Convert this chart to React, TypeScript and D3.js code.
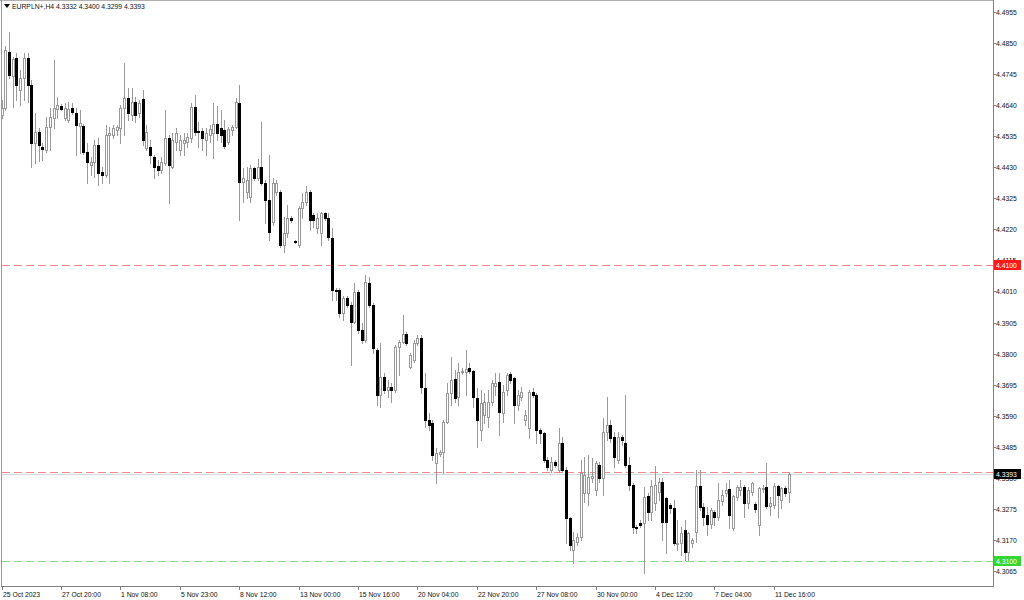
import React from "react";
import * as d3 from "d3";

const symbolTitle = "EURPLN+,H4  4.3332 4.3400 4.3299 4.3393";

const opens = [
  4.4607, 4.4630, 4.4820, 4.4739, 4.4800, 4.4691, 4.4732, 4.4800, 4.4708, 4.4512,
  4.4549, 4.4498, 4.4488, 4.4566, 4.4597, 4.4627, 4.4637, 4.4597, 4.4590, 4.4630,
  4.4614, 4.4570, 4.4570, 4.4481, 4.4438, 4.4448, 4.4505, 4.4414, 4.4404, 4.4539,
  4.4539, 4.4556, 4.4563, 4.4630, 4.4664, 4.4607, 4.4650, 4.4614, 4.4660, 4.4495,
  4.4498, 4.4465, 4.4435, 4.4421, 4.4445, 4.4529, 4.4431, 4.4515, 4.4488, 4.4512,
  4.4515, 4.4529, 4.4634, 4.4553, 4.4553, 4.4522, 4.4539, 4.4546, 4.4576, 4.4563,
  4.4556, 4.4515, 4.4556, 4.4566, 4.4647, 4.4380, 4.4347, 4.4330, 4.4428, 4.4394,
  4.4431, 4.4377, 4.4319, 4.4245, 4.4347, 4.4347, 4.4167, 4.4208, 4.4259, 4.4181,
  4.4167, 4.4293, 4.4313, 4.4347, 4.4269, 4.4225, 4.4208, 4.4276, 4.4259, 4.4191,
  4.4015, 4.4015, 4.3938, 4.3988, 4.3964, 4.3907, 4.4008, 4.3880, 4.3846, 4.4039,
  4.3964, 4.3812, 4.3660, 4.3721, 4.3677, 4.3687, 4.3677, 4.3822, 4.3839, 4.3866,
  4.3755, 4.3779, 4.3836, 4.3853, 4.3684, 4.3576, 4.3566, 4.3431, 4.3461, 4.3467,
  4.3569, 4.3667, 4.3714, 4.3653, 4.3738, 4.3738, 4.3752, 4.3741, 4.3650, 4.3542,
  4.3593, 4.3586, 4.3636, 4.3691, 4.3704, 4.3600, 4.3677, 4.3731, 4.3718, 4.3626,
  4.3653, 4.3576, 4.3549, 4.3670, 4.3660, 4.3542, 4.3532, 4.3441, 4.3407, 4.3434,
  4.3407, 4.3498, 4.3407, 4.3245, 4.3136, 4.3163, 4.3180, 4.3329, 4.3329, 4.3380,
  4.3339, 4.3424, 4.3380, 4.3535, 4.3559, 4.3518, 4.3441, 4.3518, 4.3498, 4.3424,
  4.3356, 4.3214, 4.3228, 4.3228, 4.3319, 4.3265, 4.3295, 4.3332, 4.3366, 4.3312,
  4.3288, 4.3278, 4.3156, 4.3160, 4.3204, 4.3129, 4.3160, 4.3197, 4.3353, 4.3282,
  4.3255, 4.3224, 4.3265, 4.3248, 4.3302, 4.3329, 4.3342, 4.3211, 4.3315, 4.3339,
  4.3349, 4.3295, 4.3332, 4.3292, 4.3221, 4.3342, 4.3349, 4.3285, 4.3288, 4.3353,
  4.3305, 4.3346, 4.3332,
];

const highs = [
  4.4657, 4.4840, 4.4887, 4.4803, 4.4817, 4.4759, 4.4817, 4.4817, 4.4725, 4.4614,
  4.4563, 4.4512, 4.4600, 4.4630, 4.4793, 4.4667, 4.4644, 4.4647, 4.4650, 4.4647,
  4.4630, 4.4624, 4.4576, 4.4512, 4.4465, 4.4522, 4.4529, 4.4431, 4.4573, 4.4566,
  4.4573, 4.4573, 4.4640, 4.4783, 4.4698, 4.4698, 4.4667, 4.4657, 4.4691, 4.4573,
  4.4522, 4.4471, 4.4455, 4.4465, 4.4624, 4.4539, 4.4546, 4.4563, 4.4539, 4.4546,
  4.4546, 4.4647, 4.4674, 4.4583, 4.4563, 4.4563, 4.4573, 4.4647, 4.4637, 4.4624,
  4.4590, 4.4566, 4.4573, 4.4664, 4.4708, 4.4428, 4.4431, 4.4438, 4.4431, 4.4458,
  4.4583, 4.4387, 4.4471, 4.4394, 4.4387, 4.4353, 4.4262, 4.4303, 4.4265, 4.4184,
  4.4299, 4.4343, 4.4367, 4.4353, 4.4276, 4.4276, 4.4279, 4.4279, 4.4276, 4.4225,
  4.4022, 4.4022, 4.3995, 4.3995, 4.3975, 4.4039, 4.4015, 4.3904, 4.4066, 4.4059,
  4.3971, 4.3819, 4.3836, 4.3735, 4.3711, 4.3701, 4.3829, 4.3846, 4.3931, 4.3873,
  4.3802, 4.3846, 4.3863, 4.3863, 4.3735, 4.3600, 4.3576, 4.3481, 4.3474, 4.3576,
  4.3701, 4.3789, 4.3745, 4.3768, 4.3752, 4.3812, 4.3768, 4.3745, 4.3684, 4.3677,
  4.3667, 4.3677, 4.3711, 4.3735, 4.3735, 4.3694, 4.3735, 4.3738, 4.3721, 4.3677,
  4.3687, 4.3610, 4.3677, 4.3684, 4.3667, 4.3549, 4.3535, 4.3451, 4.3451, 4.3441,
  4.3549, 4.3518, 4.3417, 4.3248, 4.3197, 4.3194, 4.3441, 4.3451, 4.3457, 4.3448,
  4.3437, 4.3434, 4.3583, 4.3653, 4.3576, 4.3535, 4.3535, 4.3525, 4.3660, 4.3451,
  4.3363, 4.3221, 4.3238, 4.3349, 4.3329, 4.3373, 4.3420, 4.3380, 4.3380, 4.3315,
  4.3295, 4.3305, 4.3238, 4.3214, 4.3238, 4.3197, 4.3177, 4.3407, 4.3407, 4.3295,
  4.3282, 4.3278, 4.3272, 4.3363, 4.3339, 4.3363, 4.3373, 4.3322, 4.3356, 4.3373,
  4.3356, 4.3349, 4.3366, 4.3299, 4.3349, 4.3356, 4.3431, 4.3315, 4.3363, 4.3356,
  4.3349, 4.3353, 4.3400,
];

const lows = [
  4.4597, 4.4624, 4.4732, 4.4633, 4.4657, 4.4640, 4.4657, 4.4650, 4.4431, 4.4445,
  4.4452, 4.4455, 4.4481, 4.4488, 4.4563, 4.4597, 4.4624, 4.4590, 4.4583, 4.4610,
  4.4471, 4.4478, 4.4474, 4.4377, 4.4404, 4.4397, 4.4370, 4.4377, 4.4397, 4.4377,
  4.4529, 4.4539, 4.4512, 4.4539, 4.4590, 4.4590, 4.4583, 4.4600, 4.4505, 4.4488,
  4.4445, 4.4394, 4.4404, 4.4411, 4.4438, 4.4309, 4.4428, 4.4488, 4.4471, 4.4471,
  4.4498, 4.4515, 4.4539, 4.4498, 4.4488, 4.4471, 4.4515, 4.4461, 4.4522, 4.4515,
  4.4495, 4.4508, 4.4539, 4.4563, 4.4252, 4.4313, 4.4326, 4.4313, 4.4387, 4.4387,
  4.4370, 4.4242, 4.4184, 4.4235, 4.4336, 4.4160, 4.4143, 4.4194, 4.4245, 4.4174,
  4.4160, 4.4259, 4.4303, 4.4218, 4.4228, 4.4208, 4.4167, 4.4252, 4.4184, 4.3981,
  4.3981, 4.3924, 4.3914, 4.3958, 4.3762, 4.3904, 4.3870, 4.3836, 4.3839, 4.3958,
  4.3802, 4.3626, 4.3620, 4.3667, 4.3653, 4.3636, 4.3670, 4.3728, 4.3836, 4.3829,
  4.3752, 4.3772, 4.3829, 4.3667, 4.3552, 4.3542, 4.3441, 4.3363, 4.3454, 4.3397,
  4.3566, 4.3626, 4.3636, 4.3626, 4.3731, 4.3660, 4.3735, 4.3620, 4.3484, 4.3508,
  4.3566, 4.3552, 4.3626, 4.3660, 4.3525, 4.3569, 4.3660, 4.3701, 4.3566, 4.3610,
  4.3643, 4.3559, 4.3515, 4.3653, 4.3498, 4.3498, 4.3434, 4.3407, 4.3400, 4.3417,
  4.3400, 4.3400, 4.3160, 4.3136, 4.3093, 4.3153, 4.3170, 4.3299, 4.3288, 4.3366,
  4.3322, 4.3366, 4.3322, 4.3508, 4.3501, 4.3417, 4.3431, 4.3491, 4.3417, 4.3339,
  4.3194, 4.3194, 4.3214, 4.3059, 4.3238, 4.3238, 4.3272, 4.3305, 4.3170, 4.3126,
  4.3261, 4.3153, 4.3136, 4.3119, 4.3103, 4.3103, 4.3146, 4.3163, 4.3272, 4.3221,
  4.3187, 4.3211, 4.3221, 4.3238, 4.3288, 4.3319, 4.3211, 4.3204, 4.3305, 4.3322,
  4.3248, 4.3278, 4.3322, 4.3265, 4.3187, 4.3332, 4.3278, 4.3255, 4.3278, 4.3248,
  4.3278, 4.3319, 4.3299,
];

const closes = [
  4.4630, 4.4827, 4.4742, 4.4797, 4.4708, 4.4732, 4.4800, 4.4708, 4.4512, 4.4549,
  4.4505, 4.4492, 4.4566, 4.4600, 4.4630, 4.4640, 4.4627, 4.4630, 4.4627, 4.4617,
  4.4573, 4.4580, 4.4481, 4.4448, 4.4448, 4.4505, 4.4411, 4.4404, 4.4539, 4.4546,
  4.4563, 4.4566, 4.4630, 4.4664, 4.4614, 4.4650, 4.4607, 4.4647, 4.4522, 4.4549,
  4.4471, 4.4431, 4.4421, 4.4448, 4.4529, 4.4438, 4.4522, 4.4546, 4.4522, 4.4522,
  4.4532, 4.4634, 4.4549, 4.4549, 4.4529, 4.4546, 4.4559, 4.4576, 4.4546, 4.4539,
  4.4502, 4.4559, 4.4566, 4.4650, 4.4380, 4.4394, 4.4387, 4.4428, 4.4394, 4.4431,
  4.4377, 4.4319, 4.4211, 4.4377, 4.4377, 4.4167, 4.4208, 4.4259, 4.4252, 4.4177,
  4.4293, 4.4313, 4.4347, 4.4252, 4.4252, 4.4259, 4.4276, 4.4259, 4.4194, 4.4015,
  4.4012, 4.3938, 4.3988, 4.3964, 4.3907, 4.4008, 4.3880, 4.3846, 4.4042, 4.3964,
  4.3819, 4.3660, 4.3721, 4.3677, 4.3687, 4.3677, 4.3822, 4.3839, 4.3866, 4.3836,
  4.3795, 4.3836, 4.3853, 4.3687, 4.3576, 4.3559, 4.3457, 4.3464, 4.3467, 4.3569,
  4.3667, 4.3711, 4.3650, 4.3738, 4.3741, 4.3748, 4.3741, 4.3653, 4.3576, 4.3633,
  4.3636, 4.3636, 4.3701, 4.3701, 4.3603, 4.3670, 4.3728, 4.3711, 4.3626, 4.3660,
  4.3670, 4.3593, 4.3670, 4.3660, 4.3542, 4.3532, 4.3441, 4.3417, 4.3434, 4.3424,
  4.3498, 4.3407, 4.3245, 4.3153, 4.3170, 4.3180, 4.3397, 4.3390, 4.3383, 4.3387,
  4.3431, 4.3380, 4.3535, 4.3559, 4.3515, 4.3451, 4.3518, 4.3508, 4.3424, 4.3356,
  4.3214, 4.3211, 4.3221, 4.3315, 4.3265, 4.3353, 4.3356, 4.3366, 4.3231, 4.3231,
  4.3278, 4.3160, 4.3160, 4.3194, 4.3129, 4.3194, 4.3170, 4.3353, 4.3282, 4.3248,
  4.3224, 4.3272, 4.3248, 4.3305, 4.3322, 4.3339, 4.3255, 4.3319, 4.3349, 4.3349,
  4.3295, 4.3339, 4.3363, 4.3275, 4.3346, 4.3346, 4.3285, 4.3295, 4.3353, 4.3322,
  4.3346, 4.3329, 4.3393,
];

const timeLabels = [
  "25 Oct 2023", "27 Oct 20:00", "1 Nov 08:00", "5 Nov 23:00", "8 Nov 12:00",
  "13 Nov 00:00", "15 Nov 16:00", "20 Nov 04:00", "22 Nov 20:00", "27 Nov 08:00",
  "30 Nov 00:00", "4 Dec 12:00", "7 Dec 04:00", "11 Dec 16:00",
];
const barsPerLabel = 16;

const priceTicks = [
  4.4955, 4.485, 4.4745, 4.464, 4.4535, 4.443, 4.4325, 4.422, 4.4115, 4.401,
  4.3905, 4.38, 4.3695, 4.359, 4.3485, 4.338, 4.3275, 4.317, 4.3065,
];

const levelRed = 4.41;
const levelAsk = 4.34;
const bidPrice = 4.3393;
const levelGreen = 4.31;

const W = 1024;
const H = 600;
const plotRight = 993;
const plotBottom = 586;
const FONT = "'Liberation Sans', Arial, sans-serif";
const FS = 6.8;

export default function App() {
  const n = closes.length;
  const x = d3.scaleLinear().domain([0, 212]).range([1.6, 788.7]);
  const y = d3.scaleLinear().domain([4.3014, 4.4989]).range([plotBottom, 2]);
  const py = (v: number) => Math.round(y(v));

  const candles = d3.range(n).map((i) => {
    const o = opens[i], h = highs[i], l = lows[i], c = closes[i];
    const cx = Math.round(x(i));
    const bull = c >= o;
    const top = py(Math.max(o, c));
    const bot = py(Math.min(o, c));
    const hgt = bot - top;
    return (
      <g key={i}>
        <line x1={cx + 0.5} x2={cx + 0.5} y1={py(h)} y2={py(l) + 1} stroke="#999" strokeWidth={1} />
        {hgt < 1 ? (
          <rect x={cx - 1} y={top} width={3} height={1} fill={bull ? "#999" : "#000"} />
        ) : bull ? (
          <rect x={cx - 0.5} y={top + 0.5} width={2} height={hgt} fill="#fff" stroke="#999" strokeWidth={1} />
        ) : (
          <rect x={cx - 1} y={top} width={3} height={hgt + 1} fill="#000" />
        )}
      </g>
    );
  });

  const labelBox = (v: number, bg: string, text: string, key: string) => {
    const cy = py(v);
    return (
      <g key={key}>
        <rect x={994} y={cy - 5} width={27} height={10} fill={bg} />
        <text x={996} y={cy + 2.5} fontSize={FS} fill="#fff" fontFamily={FONT}>{text}</text>
      </g>
    );
  };

  return (
    <svg width={W} height={H} style={{ position: "fixed", left: 0, top: 0, background: "#fff" }}>
      <rect x={0} y={0} width={W} height={H} fill="#fff" />
      <line x1={0} x2={plotRight} y1={0.5} y2={0.5} stroke="#b0b0b0" />
      <line x1={1.5} x2={1.5} y1={0} y2={plotBottom} stroke="#9a9a9a" />
      <line x1={plotRight + 0.5} x2={plotRight + 0.5} y1={0} y2={plotBottom + 1} stroke="#808080" />
      <line x1={1} x2={plotRight + 1} y1={plotBottom + 0.5} y2={plotBottom + 0.5} stroke="#808080" />

      <line x1={2} x2={plotRight} y1={py(levelRed) + 0.5} y2={py(levelRed) + 0.5} stroke="#f08a8a" strokeWidth={1} strokeDasharray="8,4" />
      <line x1={2} x2={plotRight} y1={py(bidPrice) + 0.5} y2={py(bidPrice) + 0.5} stroke="#d8d8d8" />
      <line x1={2} x2={plotRight} y1={py(levelAsk) + 0.5} y2={py(levelAsk) + 0.5} stroke="#f08a8a" strokeWidth={1} strokeDasharray="8,4" />
      <line x1={2} x2={plotRight} y1={py(levelGreen) + 0.5} y2={py(levelGreen) + 0.5} stroke="#86dc86" strokeWidth={1} strokeDasharray="8,4" />

      {candles}

      {priceTicks.map((t) => (
        <g key={t}>
          <line x1={plotRight + 1} x2={plotRight + 3} y1={py(t) + 0.5} y2={py(t) + 0.5} stroke="#808080" />
          <text x={996} y={py(t) + 2.5} fontSize={FS} fill="#111" fontFamily={FONT}>{t.toFixed(4)}</text>
        </g>
      ))}
      {labelBox(levelRed, "#ff1a1a", levelRed.toFixed(4), "lr")}
      {labelBox(bidPrice, "#000", bidPrice.toFixed(4), "lb")}
      {labelBox(levelGreen, "#33d633", levelGreen.toFixed(4), "lg")}

      {timeLabels.map((lab, k) => {
        const tx = Math.round(x(k * barsPerLabel));
        return (
          <g key={lab}>
            <line x1={tx + 0.5} x2={tx + 0.5} y1={plotBottom} y2={plotBottom + 4} stroke="#808080" />
            <text x={tx + 1} y={596.5} fontSize={FS} fill="#111" fontFamily={FONT}>{lab}</text>
          </g>
        );
      })}

      <path d="M4,4 L10,4 L7,8 Z" fill="#000" />
      <text x={12} y={8.5} fontSize={FS} fill="#111" fontFamily={FONT}>{symbolTitle}</text>
    </svg>
  );
}
